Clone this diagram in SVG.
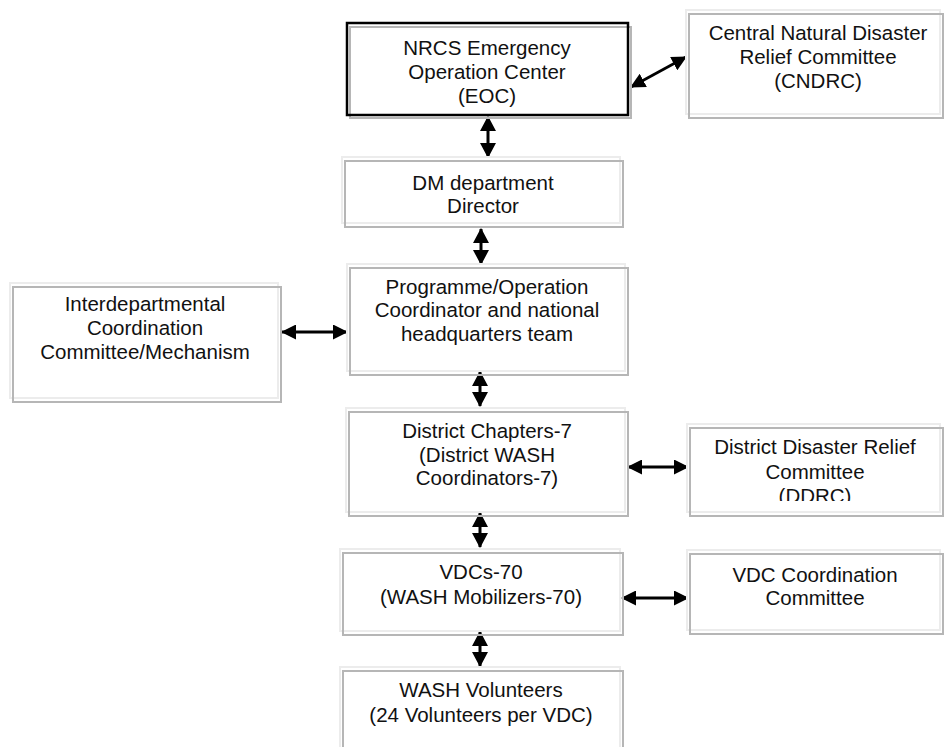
<svg xmlns="http://www.w3.org/2000/svg" width="946" height="747" viewBox="0 0 946 747">
<style>
.bg{fill:#ffffff;stroke:none}
.sh{fill:none;stroke:#b6b6b6;stroke-width:2}
.lt{fill:none;stroke:#ececec;stroke-width:2}
.bk{fill:none;stroke:#000000;stroke-width:2.5}
text{font-family:"Liberation Sans",Arial,sans-serif;font-size:20.5px;fill:#111111;text-anchor:middle}
.ah{stroke:#000000;stroke-width:2.8;fill:none}
.av{stroke:#000000;stroke-width:3;fill:none}
</style>
<defs>
<marker id="hh" viewBox="0 0 15 15" refX="14" refY="7.5" markerWidth="15" markerHeight="15" markerUnits="userSpaceOnUse" orient="auto-start-reverse">
<path d="M0,0 L15,7.5 L0,15 z" fill="#000000"/>
</marker>
<marker id="hv" viewBox="0 0 15 16" refX="14" refY="8" markerWidth="15" markerHeight="16" markerUnits="userSpaceOnUse" orient="auto-start-reverse">
<path d="M0,0 L15,8 L0,16 z" fill="#000000"/>
</marker>
<clipPath id="ddrcClip"><rect x="680" y="420" width="270" height="81"/></clipPath>
</defs>
<rect x="0" y="0" width="946" height="747" fill="#ffffff"/>

<g id="connectors">
<line class="ah" x1="631" y1="87" x2="686" y2="57" marker-start="url(#hh)" marker-end="url(#hh)"/>
<line class="av" x1="488" y1="117" x2="488" y2="157" marker-start="url(#hv)" marker-end="url(#hv)"/>
<line class="av" x1="481" y1="229" x2="481" y2="264" marker-start="url(#hv)" marker-end="url(#hv)"/>
<line class="ah" x1="282" y1="332" x2="347" y2="332" marker-start="url(#hh)" marker-end="url(#hh)"/>
<line class="av" x1="480" y1="372" x2="480" y2="406" marker-start="url(#hv)" marker-end="url(#hv)"/>
<line class="ah" x1="628" y1="467" x2="688" y2="467" marker-start="url(#hh)" marker-end="url(#hh)"/>
<line class="av" x1="480" y1="513" x2="480" y2="547" marker-start="url(#hv)" marker-end="url(#hv)"/>
<line class="ah" x1="622" y1="598" x2="688" y2="598" marker-start="url(#hh)" marker-end="url(#hh)"/>
<line class="av" x1="480" y1="632" x2="480" y2="666" marker-start="url(#hv)" marker-end="url(#hv)"/>
</g>

<g id="eoc">
<rect class="bg" x="347" y="23" width="281" height="92"/>
<rect class="sh" x="350" y="27" width="281" height="91"/>
<rect class="bk" x="347" y="23" width="281" height="92"/>
<text x="487" y="55">NRCS Emergency</text>
<text x="487" y="79">Operation Center</text>
<text x="487" y="103">(EOC)</text>
</g>

<g id="cndrc">
<rect class="bg" x="686" y="10" width="254" height="104"/>
<rect class="lt" x="686" y="10" width="254" height="104"/>
<rect class="sh" x="689" y="14" width="254" height="104"/>
<text x="818" y="40">Central Natural Disaster</text>
<text x="818" y="64">Relief Committee</text>
<text x="818" y="88">(CNDRC)</text>
</g>

<g id="dm">
<rect class="bg" x="342" y="157" width="278" height="66"/>
<rect class="lt" x="342" y="157" width="278" height="66"/>
<rect class="sh" x="345" y="161" width="278" height="66"/>
<text x="483" y="190">DM department</text>
<text x="483" y="213">Director</text>
</g>

<g id="interdept">
<rect class="bg" x="10" y="283" width="268" height="115"/>
<rect class="lt" x="10" y="283" width="268" height="115"/>
<rect class="sh" x="13" y="287" width="268" height="115"/>
<text x="145" y="311">Interdepartmental</text>
<text x="145" y="335">Coordination</text>
<text x="145" y="359">Committee/Mechanism</text>
</g>

<g id="programme">
<rect class="bg" x="347" y="264" width="278" height="107"/>
<rect class="lt" x="347" y="264" width="278" height="107"/>
<rect class="sh" x="350" y="268" width="278" height="107"/>
<text x="487" y="294">Programme/Operation</text>
<text x="487" y="317">Coordinator and national</text>
<text x="487" y="341">headquarters team</text>
</g>

<g id="district">
<rect class="bg" x="346" y="408" width="279" height="104"/>
<rect class="lt" x="346" y="408" width="279" height="104"/>
<rect class="sh" x="349" y="412" width="279" height="104"/>
<text x="487" y="438">District Chapters-7</text>
<text x="487" y="462">(District WASH</text>
<text x="487" y="485">Coordinators-7)</text>
</g>

<g id="ddrc">
<rect class="bg" x="687" y="424" width="253" height="88"/>
<rect class="lt" x="687" y="424" width="253" height="88"/>
<rect class="sh" x="690" y="428" width="253" height="88"/>
<g clip-path="url(#ddrcClip)">
<text x="815" y="454">District Disaster Relief</text>
<text x="815" y="479">Committee</text>
<text x="815" y="503">(DDRC)</text>
</g>
</g>

<g id="vdcs">
<rect class="bg" x="340" y="549" width="280" height="82"/>
<rect class="lt" x="340" y="549" width="280" height="82"/>
<rect class="sh" x="343" y="553" width="280" height="82"/>
<text x="481" y="579">VDCs-70</text>
<text x="481" y="604">(WASH Mobilizers-70)</text>
</g>

<g id="vdccoord">
<rect class="bg" x="687" y="550" width="253" height="80"/>
<rect class="lt" x="687" y="550" width="253" height="80"/>
<rect class="sh" x="690" y="554" width="253" height="80"/>
<text x="815" y="582">VDC Coordination</text>
<text x="815" y="605">Committee</text>
</g>

<g id="wash">
<rect class="bg" x="340" y="667" width="280" height="100"/>
<rect class="lt" x="340" y="667" width="280" height="100"/>
<rect class="sh" x="343" y="671" width="280" height="100"/>
<text x="481" y="697">WASH Volunteers</text>
<text x="481" y="722">(24 Volunteers per VDC)</text>
</g>
</svg>
